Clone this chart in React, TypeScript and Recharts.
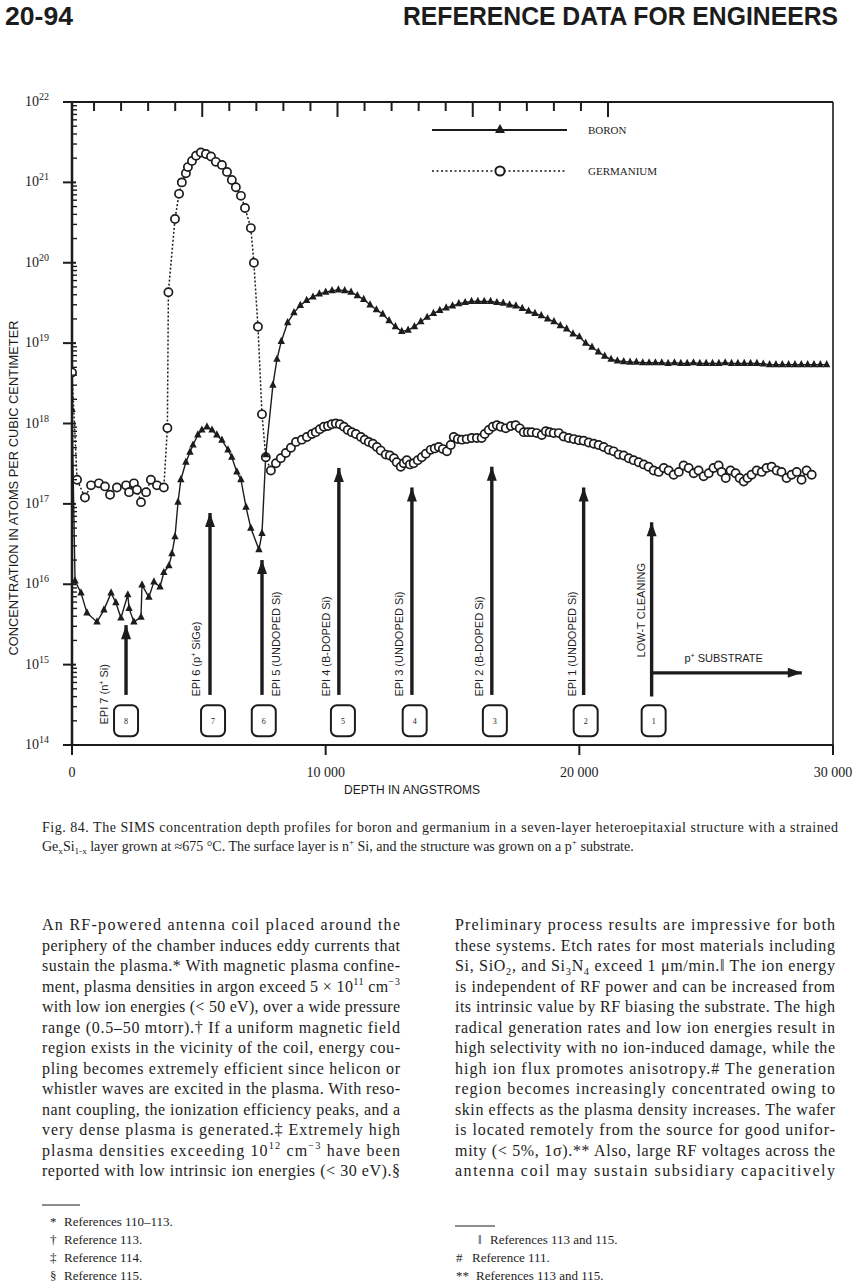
import React from 'react';
import { ComposedChart, Line, XAxis, YAxis, ReferenceLine, ReferenceDot, Legend } from 'recharts';

const INK = '#1c1c1c';
const SERIF = "'Liberation Serif', 'Times New Roman', serif";
const SANS = "'Liberation Sans', Arial, sans-serif";

// [depth in angstroms, concentration in atoms/cm3]
const boron: [number, number][] = [
  [0, 1.5e18], [120, 1.1e16], [355, 7.8e15], [590, 4.4e15], [985, 3.4e15], [1260, 4.8e15],
  [1540, 7.8e15], [1730, 5.9e15], [1930, 3.8e15], [2200, 7.4e15], [2250, 5.0e15], [2440, 3.4e15],
  [2720, 3.9e15], [2760, 9.8e15], [3030, 6.9e15], [3230, 1.07e16], [3470, 9.3e15], [3620, 1.4e16],
  [3820, 1.7e16], [3940, 2.4e16], [4060, 3.9e16], [4180, 1.05e17], [4290, 2.0e17], [4490, 3.3e17],
  [4650, 4.4e17], [4770, 5.4e17], [4960, 7.2e17], [5120, 8.3e17], [5320, 9.1e17], [5520, 8.3e17],
  [5710, 7.2e17], [5910, 6.2e17], [6150, 4.7e17], [6300, 3.8e17], [6500, 2.5e17], [6660, 2.0e17],
  [6860, 9.1e16], [7050, 5.0e16], [7370, 2.7e16], [7490, 4.3e16], [7640, 4.1e17], [7920, 3.0e18],
  [8080, 6.3e18], [8250, 1.05e19], [8500, 1.8e19], [8750, 2.4e19], [9000, 2.95e19], [9250, 3.4e19],
  [9500, 3.75e19], [9750, 4.1e19], [10000, 4.3e19], [10250, 4.5e19], [10500, 4.6e19], [10750, 4.5e19],
  [11000, 4.3e19], [11250, 3.9e19], [11500, 3.5e19], [11750, 3.0e19], [12000, 2.6e19], [12250, 2.3e19],
  [12500, 1.9e19], [12750, 1.6e19], [13000, 1.4e19], [13250, 1.45e19], [13500, 1.6e19], [13750, 1.85e19],
  [14000, 2.1e19], [14250, 2.35e19], [14500, 2.55e19], [14750, 2.75e19], [15000, 2.9e19], [15250, 3.1e19],
  [15500, 3.2e19], [15750, 3.3e19], [16000, 3.3e19], [16250, 3.3e19], [16500, 3.3e19], [16750, 3.2e19],
  [17000, 3.15e19], [17250, 3.0e19], [17500, 2.9e19], [17750, 2.7e19], [18000, 2.5e19], [18250, 2.35e19],
  [18500, 2.2e19], [18750, 2.0e19], [19000, 1.85e19], [19250, 1.65e19], [19500, 1.5e19], [19750, 1.3e19],
  [20000, 1.2e19], [20250, 1.0e19], [20500, 8.9e18], [20750, 7.8e18], [21000, 6.9e18], [21250, 6.3e18],
  [21500, 6.0e18], [21750, 5.9e18], [22000, 5.8e18], [22250, 5.8e18], [22500, 5.7e18], [22750, 5.7e18],
  [23000, 5.7e18], [23250, 5.7e18], [23500, 5.6e18], [23750, 5.7e18], [24000, 5.6e18], [24250, 5.6e18],
  [24500, 5.7e18], [24750, 5.6e18], [25000, 5.6e18], [25250, 5.6e18], [25500, 5.6e18], [25750, 5.7e18],
  [26000, 5.6e18], [26250, 5.6e18], [26500, 5.6e18], [26750, 5.6e18], [27000, 5.6e18], [27250, 5.5e18],
  [27500, 5.4e18], [27750, 5.4e18], [28000, 5.4e18], [28250, 5.4e18], [28500, 5.4e18], [28750, 5.4e18],
  [29000, 5.4e18], [29250, 5.4e18], [29500, 5.4e18], [29750, 5.4e18],
];

const germanium: [number, number][] = [
  [0, 4.3e18], [200, 2.0e17], [510, 1.2e17], [750, 1.7e17], [1060, 1.8e17], [1300, 1.65e17],
  [1500, 1.3e17], [1770, 1.6e17], [2130, 1.7e17], [2250, 1.4e17], [2440, 1.8e17], [2560, 1.5e17],
  [2720, 1.05e17], [2920, 1.4e17], [3110, 2.0e17], [3350, 1.7e17], [3620, 1.6e17], [3760, 8.8e17],
  [3800, 4.3e19], [4060, 3.5e20], [4220, 7.2e20], [4330, 1.0e21], [4490, 1.3e21], [4570, 1.55e21],
  [4730, 1.85e21], [4890, 2.15e21], [5080, 2.35e21], [5280, 2.25e21], [5480, 2.1e21], [5670, 1.8e21],
  [5910, 1.65e21], [6110, 1.35e21], [6300, 1.07e21], [6460, 8.7e20], [6660, 6.8e20], [6820, 4.8e20],
  [7050, 2.7e20], [7170, 1.0e20], [7330, 1.6e19], [7490, 1.3e18], [7640, 3.8e17], [7840, 2.6e17],
  [8040, 3.2e17], [8230, 3.7e17], [8430, 4.3e17], [8630, 5.0e17], [8830, 5.9e17], [9060, 6.3e17],
  [9260, 6.8e17], [9460, 7.4e17], [9610, 7.8e17], [9770, 8.5e17], [9930, 9.1e17], [10090, 9.3e17],
  [10240, 9.8e17], [10400, 1.0e18], [10560, 9.8e17], [10720, 9.1e17], [10870, 8.3e17], [11030, 7.8e17],
  [11190, 7.4e17], [11390, 6.8e17], [11540, 6.3e17], [11700, 5.9e17], [11860, 5.6e17], [12020, 5.1e17],
  [12170, 4.6e17], [12370, 4.1e17], [12530, 4.0e17], [12690, 3.7e17], [12800, 3.3e17], [12960, 2.9e17],
  [13080, 3.2e17], [13200, 3.5e17], [13320, 3.1e17], [13470, 3.2e17], [13630, 3.5e17], [13790, 3.8e17],
  [13950, 4.2e17], [14140, 4.7e17], [14300, 4.9e17], [14460, 5.1e17], [14620, 4.8e17], [14780, 4.5e17],
  [14930, 5.4e17], [15050, 6.8e17], [15210, 6.4e17], [15370, 6.3e17], [15560, 6.4e17], [15760, 6.6e17],
  [15960, 6.6e17], [16150, 6.6e17], [16270, 7.4e17], [16430, 8.3e17], [16590, 9.1e17], [16750, 9.5e17],
  [16900, 9.1e17], [17100, 8.7e17], [17300, 9.3e17], [17490, 9.5e17], [17650, 8.7e17], [17810, 7.8e17],
  [17970, 7.8e17], [18120, 7.8e17], [18320, 7.6e17], [18520, 7.2e17], [18680, 8.0e17], [18830, 7.8e17],
  [18990, 7.6e17], [19190, 7.6e17], [19380, 6.9e17], [19580, 6.6e17], [19780, 6.4e17], [19980, 6.2e17],
  [20170, 6.1e17], [20370, 5.8e17], [20570, 5.6e17], [20760, 5.4e17], [20960, 5.1e17], [21160, 4.7e17],
  [21350, 4.5e17], [21550, 4.1e17], [21750, 4.0e17], [21950, 3.7e17], [22140, 3.5e17], [22340, 3.3e17],
  [22540, 3.1e17], [22730, 2.9e17], [22930, 2.6e17], [23130, 2.5e17], [23330, 2.8e17], [23520, 2.6e17],
  [23720, 2.3e17], [23920, 2.5e17], [24110, 3.0e17], [24310, 2.8e17], [24510, 2.4e17], [24700, 2.6e17],
  [24900, 2.2e17], [25100, 2.4e17], [25290, 2.8e17], [25490, 3.0e17], [25610, 2.5e17], [25770, 2.1e17],
  [25960, 2.6e17], [26160, 2.4e17], [26320, 2.1e17], [26480, 1.9e17], [26630, 2.1e17], [26790, 2.3e17],
  [26990, 2.6e17], [27190, 2.5e17], [27380, 2.8e17], [27580, 2.9e17], [27780, 2.6e17], [27970, 2.5e17],
  [28170, 2.1e17], [28370, 2.3e17], [28570, 2.5e17], [28760, 2.0e17], [28960, 2.6e17], [29160, 2.3e17],
];

const decadeTicks = [1e14, 1e15, 1e16, 1e17, 1e18, 1e19, 1e20, 1e21, 1e22];
const minorSteps = [2, 3, 4, 5, 6, 7, 8, 9];
const concTicks = [
  ...decadeTicks,
  ...decadeTicks.slice(0, -1).flatMap((d) => minorSteps.map((m) => m * d)),
].sort((a, b) => a - b);
const depthTicks = [0, 10000, 20000, 30000];
const topTicks = [1000, 2000, 3000, 4000, 5000, 6000, 7000, 8000, 9000, 10000,
  11000, 12000, 13000, 14000, 15000, 16000, 17000, 18000, 19000, 20000];

// layer arrows: depth, tip concentration, tail concentration
const layerArrows = [
  { depth: 2130, top: 3.1e15, bottom: 4.2e14 },
  { depth: 5440, top: 7.7e16, bottom: 4.2e14 },
  { depth: 7490, top: 2.0e16, bottom: 4.2e14 },
  { depth: 10520, top: 2.8e17, bottom: 4.2e14 },
  { depth: 13400, top: 1.6e17, bottom: 4.2e14 },
  { depth: 16550, top: 2.9e17, bottom: 4.2e14 },
  { depth: 20170, top: 1.6e17, bottom: 4.2e14 },
  { depth: 22850, top: 5.9e16, bottom: 4.0e14 },
];
const layerBoxes = [
  { depth: 2130, conc: 2.0e14, label: '8' },
  { depth: 5560, conc: 2.0e14, label: '7' },
  { depth: 7560, conc: 2.0e14, label: '6' },
  { depth: 10680, conc: 2.0e14, label: '5' },
  { depth: 13510, conc: 2.0e14, label: '4' },
  { depth: 16670, conc: 2.0e14, label: '3' },
  { depth: 20250, conc: 2.0e14, label: '2' },
  { depth: 22930, conc: 2.0e14, label: '1' },
];
const layerLabels = [
  { depth: 1260, conc: 1.8e14, text: 'EPI 7 (n^{+} Si)' },
  { depth: 4890, conc: 4.0e14, text: 'EPI 6 (p^{+} SiGe)' },
  { depth: 8040, conc: 4.0e14, text: 'EPI 5 (UNDOPED Si)' },
  { depth: 10010, conc: 4.0e14, text: 'EPI 4 (B-DOPED Si)' },
  { depth: 12880, conc: 4.0e14, text: 'EPI 3 (UNDOPED Si)' },
  { depth: 16040, conc: 4.0e14, text: 'EPI 2 (B-DOPED Si)' },
  { depth: 19700, conc: 4.0e14, text: 'EPI 1 (UNDOPED Si)' },
  { depth: 22420, conc: 1.23e15, text: 'LOW-T CLEANING' },
];
const substrate = { from: 22850, to: 28770, conc: 7.9e14, labelDepth: 25690, labelConc: 1.07e15, text: 'p^{+} SUBSTRATE' };

const header = { page: '20-94', title: 'REFERENCE DATA FOR ENGINEERS' };
const caption = [
  'Fig. 84. The SIMS concentration depth profiles for boron and germanium in a seven-layer heteroepitaxial structure with a strained',
  'Ge_{x}Si_{1-x} layer grown at \u2248675 \u00b0C. The surface layer is n^{+} Si, and the structure was grown on a p^{+} substrate.',
];
const leftColumn = [
  'An RF-powered antenna coil placed around the',
  'periphery of the chamber induces eddy currents that',
  'sustain the plasma.* With magnetic plasma confine-',
  'ment, plasma densities in argon exceed 5 \u00d7 10^{11} cm^{\u22123}',
  'with low ion energies (< 50 eV), over a wide pressure',
  'range (0.5\u201350 mtorr).\u2020 If a uniform magnetic field',
  'region exists in the vicinity of the coil, energy cou-',
  'pling becomes extremely efficient since helicon or',
  'whistler waves are excited in the plasma. With reso-',
  'nant coupling, the ionization efficiency peaks, and a',
  'very dense plasma is generated.\u2021 Extremely high',
  'plasma densities exceeding 10^{12} cm^{\u22123} have been',
  'reported with low intrinsic ion energies (< 30 eV).\u00a7',
];
const rightColumn = [
  'Preliminary process results are impressive for both',
  'these systems. Etch rates for most materials including',
  'Si, SiO_{2}, and Si_{3}N_{4} exceed 1 \u03bcm/min.\u2016 The ion energy',
  'is independent of RF power and can be increased from',
  'its intrinsic value by RF biasing the substrate. The high',
  'radical generation rates and low ion energies result in',
  'high selectivity with no ion-induced damage, while the',
  'high ion flux promotes anisotropy.# The generation',
  'region becomes increasingly concentrated owing to',
  'skin effects as the plasma density increases. The wafer',
  'is located remotely from the source for good unifor-',
  'mity (< 5%, 1\u03c3).** Also, large RF voltages across the',
  'antenna coil may sustain subsidiary capacitively',
];
const leftNotes = [['*', 'References 110\u2013113.'], ['\u2020', 'Reference 113.'], ['\u2021', 'Reference 114.'], ['\u00a7', 'Reference 115.']];
const rightNotes = [['\u2016', 'References 113 and 115.'], ['#', 'Reference 111.'], ['**', 'References 113 and 115.']];
const rightNoteX = [[478, 490], [456, 472], [456, 476]];

const rich = (s: string, size: number) => {
  const parts = s.split(/(\^\{[^}]*\}|_\{[^}]*\})/).filter(Boolean);
  let shift = 0;
  return parts.map((p, i) => {
    let target = 0;
    let text = p;
    let fs = size;
    if (p.startsWith('^{')) { target = -size * 0.4; text = p.slice(2, -1); fs = size * 0.65; }
    else if (p.startsWith('_{')) { target = size * 0.22; text = p.slice(2, -1); fs = size * 0.65; }
    const dy = target - shift;
    shift = target;
    return <tspan key={i} dy={dy} fontSize={fs}>{text}</tspan>;
  });
};

const ConcTick = (p: any) => {
  const { x, y, payload } = p;
  const lg = Math.log10(payload.value);
  const exp = Math.round(lg);
  if (Math.abs(lg - exp) > 1e-6) {
    return <line x1={x - 1} y1={y} x2={x + 5} y2={y} stroke={INK} strokeWidth={1.4} />;
  }
  return (
    <g>
      <line x1={x - 9} y1={y} x2={x + 4} y2={y} stroke={INK} strokeWidth={2} />
      <text x={x - 47} y={y + 4} fontFamily={SERIF} fontSize={14} fill={INK}>
        10<tspan fontSize={10} dy={-6}>{exp}</tspan>
      </text>
    </g>
  );
};
const DepthTick = (p: any) => {
  const { x, y, payload } = p;
  const v = payload.value;
  return (
    <g>
      <line x1={x} y1={y} x2={x} y2={y + 10} stroke={INK} strokeWidth={2} />
      <text x={x} y={y + 32} textAnchor="middle" fontFamily={SERIF} fontSize={14} fill={INK}>
        {v === 0 ? '0' : `${v / 1000} 000`}
      </text>
    </g>
  );
};
const TopTick = (p: any) => {
  const { x, y, payload } = p;
  const len = payload.value % 5000 === 0 ? 15 : 9;
  return <line x1={x} y1={y} x2={x} y2={y + len} stroke={INK} strokeWidth={2} />;
};

const triangleDot = (p: any) => (
  <path key={`b${p.index}`} d={`M${p.cx},${p.cy - 4.6} L${p.cx + 3.7},${p.cy + 2.6} L${p.cx - 3.7},${p.cy + 2.6} Z`} fill={INK} />
);
const circleDot = (p: any) => (
  <circle key={`g${p.index}`} cx={p.cx} cy={p.cy} r={4.1} fill="#fff" stroke={INK} strokeWidth={1.7} />
);

const renderLegend = (props: any) => {
  const entries = [...(props.payload || [])].sort((a: any) => (a.value === 'BORON' ? -1 : 1));
  return (
    <svg width={260} height={70}>
      {entries.map((e: any, i: number) => {
        const y = 13 + i * 41;
        const isBoron = e.value === 'BORON';
        return (
          <g key={e.value}>
            <line x1={4} x2={139} y1={y} y2={y} stroke={INK} strokeWidth={isBoron ? 1.8 : 1.6} strokeDasharray={isBoron ? undefined : '2 2.5'} />
            {isBoron ? (
              <path d={`M72,${y - 6} L77,${y + 3} L67,${y + 3} Z`} fill={INK} />
            ) : (
              <circle cx={72} cy={y} r={4.6} fill="#fff" stroke={INK} strokeWidth={2} />
            )}
            <text x={160} y={y + 4} fontFamily={SERIF} fontSize={11} fill={INK}>{e.value}</text>
          </g>
        );
      })}
    </svg>
  );
};

const boronData = boron.map(([d, v]) => ({ d, v }));
const germaniumData = germanium.map(([d, v]) => ({ d, v }));

const Page = () => (
  <svg width={854} height={1284} style={{ position: 'absolute', left: 0, top: 0 }}>
    <text x={5} y={25} fontFamily="'Liberation Sans Narrow', 'Liberation Sans', Arial" fontWeight="bold" fontSize={25} textLength={68} lengthAdjust="spacingAndGlyphs" fill={INK}>{header.page}</text>
    <text x={403} y={25} fontFamily="'Liberation Sans Narrow', 'Liberation Sans', Arial" fontWeight="bold" fontSize={25} textLength={435} lengthAdjust="spacingAndGlyphs" fill={INK}>{header.title}</text>
    <text x={18} y={488} transform="rotate(-90 18 488)" textAnchor="middle" fontFamily={SANS} fontSize={12} textLength={335} lengthAdjust="spacingAndGlyphs" fill={INK}>
      CONCENTRATION IN ATOMS PER CUBIC CENTIMETER
    </text>
    <text x={412} y={794} textAnchor="middle" fontFamily={SANS} fontSize={12} fill={INK}>DEPTH IN ANGSTROMS</text>
    <text x={42} y={832} fontFamily={SERIF} fontSize={14} textLength={796} lengthAdjust="spacing" fill={INK}>{rich(caption[0], 14)}</text>
    <text x={42} y={851} fontFamily={SERIF} fontSize={14} fill={INK}>{rich(caption[1], 14)}</text>
    {leftColumn.map((line, i) => (
      <text key={`l${i}`} x={42} y={930 + i * 20.5} fontFamily={SERIF} fontSize={16} textLength={358} lengthAdjust="spacing" fill={INK}>{rich(line, 16)}</text>
    ))}
    {rightColumn.map((line, i) => (
      <text key={`r${i}`} x={455} y={930 + i * 20.5} fontFamily={SERIF} fontSize={16} textLength={380} lengthAdjust="spacing" fill={INK}>{rich(line, 16)}</text>
    ))}
    <line x1={42} x2={80} y1={1205} y2={1205} stroke={INK} strokeWidth={1} />
    {leftNotes.map(([m, t], i) => (
      <g key={`fl${i}`} fontFamily={SERIF} fontSize={13} fill={INK}>
        <text x={50} y={1226 + i * 18}>{m}</text>
        <text x={64} y={1226 + i * 18}>{t}</text>
      </g>
    ))}
    <line x1={455} x2={495} y1={1226} y2={1226} stroke={INK} strokeWidth={1} />
    {rightNotes.map(([m, t], i) => (
      <g key={`fr${i}`} fontFamily={SERIF} fontSize={13} fill={INK}>
        <text x={rightNoteX[i][0]} y={1244 + i * 18}>{m}</text>
        <text x={rightNoteX[i][1]} y={1244 + i * 18}>{t}</text>
      </g>
    ))}
  </svg>
);

export default function App() {
  return (
    <div style={{ position: 'absolute', left: 0, top: 0, width: 854, height: 1284, background: '#fff' }}>
      <Page />
      <ComposedChart width={854} height={800} data={boronData} margin={{ top: 101, right: 20, bottom: 54, left: 71 }}>
        <XAxis xAxisId="b" type="number" dataKey="d" domain={[0, 30000]} ticks={depthTicks} interval={0}
          allowDataOverflow height={1} tickSize={0} tickMargin={0} tickLine={false}
          axisLine={{ stroke: INK, strokeWidth: 2 }} tick={<DepthTick />} />
        <XAxis xAxisId="t" orientation="top" type="number" dataKey="d" domain={[185, 28318]} ticks={topTicks} interval={0}
          allowDataOverflow height={1} tickSize={0} tickMargin={0} tickLine={false}
          axisLine={{ stroke: INK, strokeWidth: 2 }} tick={<TopTick />} />
        <YAxis yAxisId="c" type="number" scale="log" domain={[1e14, 1e22]} ticks={concTicks} interval={0}
          allowDataOverflow width={1} tickSize={0} tickMargin={0} tickLine={false}
          axisLine={{ stroke: INK, strokeWidth: 2.5 }} tick={<ConcTick />} />
        <YAxis yAxisId="r" orientation="right" type="number" domain={[0, 1]} allowDataOverflow width={1}
          tickLine={false} tick={false} axisLine={{ stroke: INK, strokeWidth: 1.6 }} />
        <Legend layout="horizontal" align="center" verticalAlign="middle" content={renderLegend}
          wrapperStyle={{ left: 428, top: 117, width: 260, height: 70 }} />
        <Line xAxisId="b" yAxisId="c" name="GERMANIUM" data={germaniumData} dataKey="v" type="linear"
          stroke={INK} strokeWidth={1.5} strokeDasharray="2 2" dot={circleDot} activeDot={false} isAnimationActive={false} />
        <Line xAxisId="b" yAxisId="c" name="BORON" data={boronData} dataKey="v" type="linear"
          stroke={INK} strokeWidth={1.4} dot={triangleDot} activeDot={false} isAnimationActive={false} />
        {layerArrows.map((a, i) => (
          <ReferenceLine key={`s${i}`} xAxisId="b" yAxisId="c" ifOverflow="visible"
            segment={[{ x: a.depth, y: a.bottom }, { x: a.depth, y: a.top }]} stroke={INK} strokeWidth={3.4} />
        ))}
        {layerArrows.map((a, i) => (
          <ReferenceDot key={`h${i}`} xAxisId="b" yAxisId="c" x={a.depth} y={a.top} ifOverflow="visible"
            shape={(p: any) => <path d={`M${p.cx},${p.cy} L${p.cx + 5},${p.cy + 14} L${p.cx - 5},${p.cy + 14} Z`} fill={INK} />} />
        ))}
        <ReferenceLine xAxisId="b" yAxisId="c" ifOverflow="visible"
          segment={[{ x: substrate.from, y: substrate.conc }, { x: substrate.to, y: substrate.conc }]} stroke={INK} strokeWidth={3.4} />
        <ReferenceDot xAxisId="b" yAxisId="c" x={substrate.to} y={substrate.conc} ifOverflow="visible"
          shape={(p: any) => <path d={`M${p.cx},${p.cy} L${p.cx - 14},${p.cy - 5} L${p.cx - 14},${p.cy + 5} Z`} fill={INK} />} />
        <ReferenceDot xAxisId="b" yAxisId="c" x={substrate.labelDepth} y={substrate.labelConc} ifOverflow="visible"
          shape={(p: any) => (
            <text x={p.cx} y={p.cy} textAnchor="middle" fontFamily={SANS} fontSize={11} fill={INK}>{rich(substrate.text, 11)}</text>
          )} />
        {layerBoxes.map((b, i) => (
          <ReferenceDot key={`b${i}`} xAxisId="b" yAxisId="c" x={b.depth} y={b.conc} ifOverflow="visible"
            shape={(p: any) => (
              <g>
                <rect x={p.cx - 12} y={p.cy - 15.5} width={24} height={31} rx={6} fill="#fff" stroke={INK} strokeWidth={2} />
                <text x={p.cx} y={p.cy + 3} textAnchor="middle" fontFamily={SERIF} fontSize={8} fill={INK}>{b.label}</text>
              </g>
            )} />
        ))}
        {layerLabels.map((l, i) => (
          <ReferenceDot key={`t${i}`} xAxisId="b" yAxisId="c" x={l.depth} y={l.conc} ifOverflow="visible"
            shape={(p: any) => (
              <text x={p.cx + 4} y={p.cy} transform={`rotate(-90 ${p.cx + 4} ${p.cy})`} fontFamily={SANS} fontSize={11} fill={INK}>
                {rich(l.text, 11)}
              </text>
            )} />
        ))}
      </ComposedChart>
    </div>
  );
}
